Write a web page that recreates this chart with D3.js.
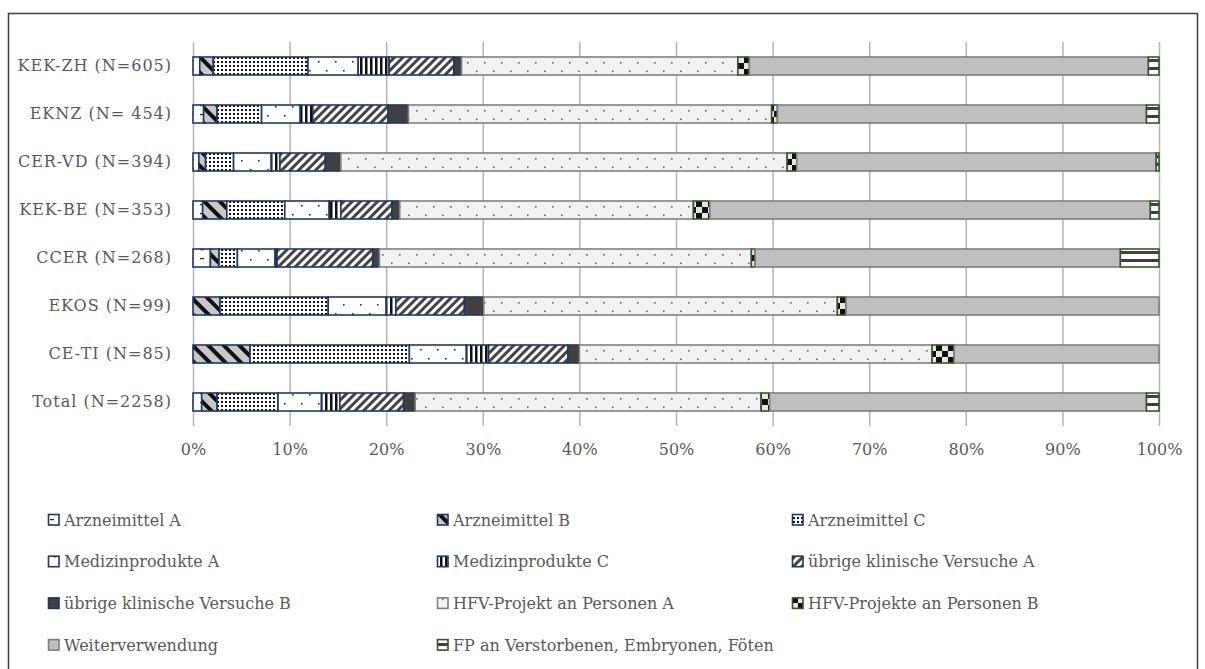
<!DOCTYPE html>
<html lang="de">
<head>
<meta charset="utf-8">
<style>
  body { margin: 0; background: #fff; }
  svg text { font-family: "DejaVu Serif", "Liberation Serif", serif; fill: #595959; }
</style>
</head>
<body>
<div id="chart"></div>
<script src="https://d3js.org/d3.v7.min.js"></script>
<script>
// Kommissionen (rows, top to bottom)
const categories = ["KEK-ZH (N=605)", "EKNZ (N= 454)", "CER-VD (N=394)", "KEK-BE (N=353)",
  "CCER (N=268)", "EKOS (N=99)", "CE-TI (N=85)", "Total (N=2258)"];

const seriesNames = ["Arzneimittel A", "Arzneimittel B", "Arzneimittel C",
  "Medizinprodukte A", "Medizinprodukte C", "übrige klinische Versuche A",
  "übrige klinische Versuche B", "HFV-Projekt an Personen A", "HFV-Projekte an Personen B",
  "Weiterverwendung", "FP an Verstorbenen, Embryonen, Föten"];

// shares in % per row (same order as categories)
const arzneiA   = [0.7, 1.1, 0.6, 1.0, 1.8, 0.0, 0.0, 0.9];
const arzneiB   = [1.4, 1.4, 0.7, 2.5, 0.9, 2.8, 5.9, 1.6];
const arzneiC   = [9.8, 4.6, 2.9, 6.0, 1.9, 11.2, 16.5, 6.3];
const medA      = [5.2, 4.0, 3.9, 4.6, 3.9, 6.0, 5.9, 4.5];
const medC      = [3.2, 1.3, 0.9, 1.2, 0.2, 1.0, 2.3, 1.9];
const uebrigA   = [6.7, 7.8, 4.7, 5.3, 9.9, 7.1, 8.2, 6.6];
const uebrigB   = [0.8, 2.1, 1.6, 0.8, 0.7, 2.0, 1.2, 1.2];
const hfvA      = [28.6, 37.6, 46.2, 30.4, 38.5, 36.6, 36.5, 35.8];
const hfvB      = [1.2, 0.6, 1.0, 1.7, 0.4, 0.9, 2.3, 0.9];
const weiter    = [41.3, 38.2, 37.2, 45.6, 37.8, 32.4, 21.2, 39.0];
const fpVerst   = [1.1, 1.3, 0.3, 0.9, 4.0, 0.0, 0.0, 1.3];

const seriesValues = [arzneiA, arzneiB, arzneiC, medA, medC, uebrigA, uebrigB, hfvA, hfvB, weiter, fpVerst];
const xTicks = [0, 10, 20, 30, 40, 50, 60, 70, 80, 90, 100];

const width = 1205, height = 669;
const margin = { top: 42, left: 193, right: 46, bottom: 243 };
const fontSize = 16;

const svg = d3.select("#chart").append("svg")
  .attr("width", width)
  .attr("height", height);

const defs = svg.append("defs");
const navy = "#203864", green = "#375623", gray = "#808080";

const x = d3.scaleLinear().domain([0, 100]).range([margin.left, width - margin.right]);
const y = d3.scaleBand().domain(categories)
  .range([margin.top, height - margin.bottom])
  .paddingInner(0.625).paddingOuter(0.3125);

// patterns
function pat(id, w, h, extra) {
  const p = defs.append("pattern").attr("id", id)
    .attr("patternUnits", "userSpaceOnUse").attr("width", w).attr("height", h);
  if (extra) extra(p);
  return p;
}
pat("pA", 10, 9, p => {
  p.append("rect").attr("width", 10).attr("height", 9).attr("fill", "#fff");
  p.append("rect").attr("x", 0).attr("y", 6).attr("width", 4).attr("height", 1.2).attr("fill", "#222");
});
pat("pB", 11, 11, p => {
  p.attr("patternTransform", "rotate(-45)");
  p.append("rect").attr("width", 11).attr("height", 11).attr("fill", "#c8c8c8");
  p.append("rect").attr("width", 4).attr("height", 11).attr("fill", "#111");
});
pat("pC", 4, 4, p => {
  p.append("rect").attr("width", 4).attr("height", 4).attr("fill", "#fff");
  p.append("rect").attr("x", 1).attr("y", 1).attr("width", 2).attr("height", 2).attr("fill", "#111");
});
pat("pMA", 17, 18, p => {
  p.attr("y", y(categories[0]));
  p.append("rect").attr("width", 17).attr("height", 18).attr("fill", "#fff");
  p.append("rect").attr("x", 12).attr("y", 4).attr("width", 1.6).attr("height", 1.6).attr("fill", navy);
  p.append("rect").attr("x", 3).attr("y", 13).attr("width", 1.6).attr("height", 1.6).attr("fill", navy);
});
pat("pMC", 5, 5, p => {
  p.append("rect").attr("width", 5).attr("height", 5).attr("fill", "#fff");
  p.append("rect").attr("width", 2.5).attr("height", 5).attr("fill", "#111");
});
pat("pUA", 6, 6, p => {
  p.attr("patternTransform", "rotate(45)");
  p.append("rect").attr("width", 6).attr("height", 6).attr("fill", "#fff");
  p.append("rect").attr("width", 3).attr("height", 6).attr("fill", "#444");
});
pat("pHA", 17, 24, p => {
  p.attr("y", y(categories[0]));
  p.append("rect").attr("width", 17).attr("height", 24).attr("fill", "#f2f2f2");
  p.append("rect").attr("x", 8).attr("y", 5).attr("width", 1.6).attr("height", 1.6).attr("fill", "#666");
  p.append("rect").attr("x", 0).attr("y", 13.5).attr("width", 1.6).attr("height", 1.6).attr("fill", "#666");
});
pat("pHB", 12, 12, p => {
  p.attr("y", y(categories[0]));
  p.append("rect").attr("width", 12).attr("height", 12).attr("fill", "#e6e6e6");
  p.append("rect").attr("width", 6).attr("height", 6).attr("fill", "#111");
  p.append("rect").attr("x", 6).attr("y", 6).attr("width", 6).attr("height", 6).attr("fill", "#111");
});
pat("pFP", 8, 8, p => {
  p.attr("y", y(categories[0]));
  p.append("rect").attr("width", 8).attr("height", 8).attr("fill", "#fff");
  p.append("rect").attr("y", 2).attr("width", 8).attr("height", 3).attr("fill", "#404040");
});

const fills = ["url(#pA)", "url(#pB)", "url(#pC)", "url(#pMA)", "url(#pMC)", "url(#pUA)",
  "#404040", "url(#pHA)", "url(#pHB)", "#bfbfbf", "url(#pFP)"];
const strokes = [navy, navy, navy, navy, navy, navy, navy, gray, green, gray, green];

// outer frame (cut off at the bottom of the page)
svg.append("rect")
  .attr("x", 8.5).attr("y", 13.5)
  .attr("width", 1189).attr("height", 700)
  .attr("fill", "none").attr("stroke", "#3f3f3f").attr("stroke-width", 1.5);

// grid + x axis labels
const xAxis = svg.append("g")
  .attr("transform", `translate(0,${height - margin.bottom})`)
  .call(d3.axisBottom(x).tickValues(xTicks)
    .tickFormat(d => d + "%")
    .tickSize(-(height - margin.bottom - margin.top))
    .tickPadding(18));
xAxis.select(".domain").remove();
xAxis.selectAll(".tick line").attr("stroke", "#b4b4b4").attr("stroke-width", 1.5);
xAxis.selectAll(".tick text").attr("font-size", fontSize);

// y axis labels
const yAxis = svg.append("g")
  .attr("transform", `translate(${margin.left},0)`)
  .call(d3.axisLeft(y).tickSize(0).tickPadding(21));
yAxis.select(".domain").remove();
yAxis.selectAll(".tick text").attr("font-size", fontSize).attr("letter-spacing", 1);

// stacked bars
const table = categories.map((c, i) => {
  const row = { cat: c };
  seriesNames.forEach((s, j) => { row[s] = seriesValues[j][i]; });
  return row;
});
const stacked = d3.stack().keys(seriesNames)(table);

svg.append("g").selectAll("g")
  .data(stacked)
  .join("g")
  .attr("fill", (d, i) => fills[i])
  .attr("stroke", (d, i) => strokes[i])
  .attr("stroke-width", 1.6)
  .selectAll("rect")
  .data(d => d.filter(s => s[1] - s[0] > 0))
  .join("rect")
  .attr("x", d => x(d[0]))
  .attr("y", d => y(d.data.cat))
  .attr("width", d => x(d[1]) - x(d[0]))
  .attr("height", y.bandwidth());

// legend
const legCols = [48, 437, 792];
const legend = svg.append("g");
seriesNames.forEach((s, i) => {
  const col = i % 3, row = Math.floor(i / 3);
  const gx = legCols[col], gy = 520 + row * 41.7;
  legend.append("rect")
    .attr("x", gx + 0.5).attr("y", gy - 5.5)
    .attr("width", 10.5).attr("height", 10.5)
    .attr("fill", fills[i]).attr("stroke", strokes[i]).attr("stroke-width", 1.6);
  legend.append("text")
    .attr("x", gx + 16).attr("y", gy)
    .attr("dy", "0.35em")
    .attr("font-size", fontSize)
    .text(s);
});
</script>
</body>
</html>
